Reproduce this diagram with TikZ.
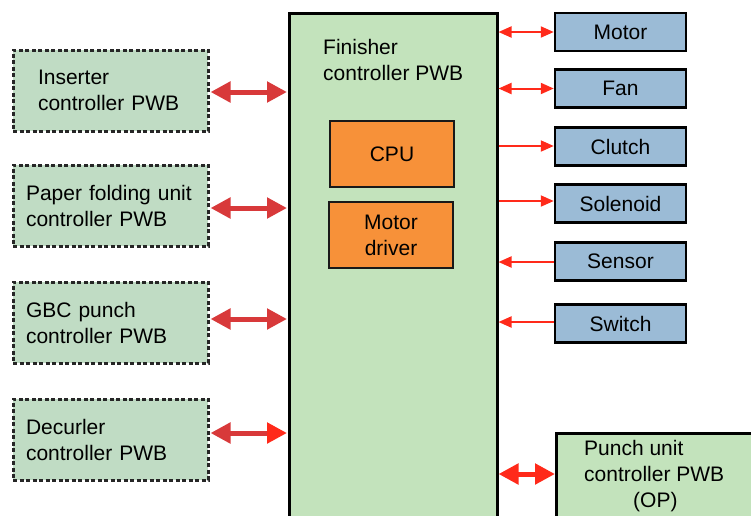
\documentclass[tikz,border=0pt]{standalone}
\usepackage{fontspec}
\setmainfont{Liberation Sans}
\usetikzlibrary{arrows.meta}
\definecolor{lgreen}{HTML}{C0DCC4}
\definecolor{mgreen}{HTML}{C3E3BC}
\definecolor{rblue}{HTML}{9BBBD6}
\definecolor{corange}{HTML}{F79139}
\definecolor{dred}{HTML}{D8393A}
\definecolor{bred}{HTML}{FF2A1A}
\tikzset{
  every node/.style={font=\fontsize{21}{26}\selectfont, inner sep=0pt},
  lbox/.style={draw=black!85, dash pattern=on 4pt off 2.5pt, line width=3pt, fill=lgreen, minimum width=195, minimum height=81, align=left},
  rbox/.style={draw=black, line width=2.5pt, fill=rblue, minimum width=131, minimum height=38},
  obox/.style={draw=black!90, line width=2pt, fill=corange, minimum width=124, minimum height=66, align=center},
  bigarrow/.style={dred, line width=5pt, {Triangle[length=20pt,width=20pt]}-{Triangle[length=20pt,width=20pt]}, shorten <=1pt, shorten >=1pt},
  thinarrow/.style={bred, line width=2pt},
  thintip/.style={-{Triangle[length=13pt,width=11pt]}},
}
\begin{document}
\begin{tikzpicture}[x=1pt,y=-1pt]
\useasboundingbox (0,0) rectangle (751,515);
% main box
\node[draw=black, line width=2.5pt, fill=mgreen, minimum width=208, minimum height=520, anchor=north west] (main) at (288,12) {};
\node[anchor=west, align=left] (maintxt) at (323,60) {Finisher\\controller PWB};
\node[obox] (cpu) at (392,154) {CPU};
\node[obox] (drv) at (391,235) {Motor\\driver};
% left boxes
\node[lbox, inner xsep=25pt, text width=145pt] (ins) at (110.5,90.5) {Inserter\\controller PWB};
\node[lbox, inner xsep=13pt, text width=169pt] (pfu) at (110.5,205.5) {Paper folding unit\\controller PWB};
\node[lbox, inner xsep=13pt, text width=169pt] (gbc) at (110.5,322.5) {GBC punch\\controller PWB};
\node[lbox, inner xsep=13pt, text width=169pt] (dec) at (110.5,439.5) {Decurler\\controller PWB};
% left arrows
\coordinate (m1) at (main.west |- 0,92);
\coordinate (m2) at (main.west |- 0,208);
\coordinate (m3) at (main.west |- 0,319);
\coordinate (m4) at (main.west |- 0,433);
\draw[bigarrow] (ins.east |- m1) -- (m1);
\draw[bigarrow] (pfu.east |- m2) -- (m2);
\draw[bigarrow] (gbc.east |- m3) -- (m3);
\draw[bigarrow, {Triangle[length=20pt,width=20pt]}-{Triangle[length=20pt,width=20pt,color=bred]}] (dec.east |- m4) -- (m4);
% right boxes
\node[rbox] (motor) at (620.5,32) {Motor};
\node[rbox] (fan) at (620.5,88.5) {Fan};
\node[rbox] (clutch) at (620.5,146.5) {Clutch};
\node[rbox] (sol) at (620.5,203.5) {Solenoid};
\node[rbox] (sens) at (620.5,261.5) {Sensor};
\node[rbox] (sw) at (620.5,323.5) {Switch};
\node[draw=black, line width=2.5pt, fill=mgreen, minimum width=205, minimum height=90, anchor=north west] (punch) at (555,432) {};
\node[anchor=north west, align=left] (punchtxt) at (584,440) {Punch unit\\controller PWB\\\hspace*{49pt}(OP)};
% right arrows
\draw[thinarrow, {Triangle[length=13pt,width=11pt]}-{Triangle[length=13pt,width=11pt]}] (main.east |- motor) -- (motor.west);
\draw[thinarrow, {Triangle[length=13pt,width=11pt]}-{Triangle[length=13pt,width=11pt]}] (main.east |- fan) -- (fan.west);
\draw[thinarrow, thintip] (main.east |- 0,146) -- (clutch.west |- 0,146);
\draw[thinarrow, thintip] (main.east |- 0,201) -- (sol.west |- 0,201);
\draw[thinarrow, thintip] (sens.west |- 0,262) -- (main.east |- 0,262);
\draw[thinarrow, thintip] (sw.west |- 0,322) -- (main.east |- 0,322);
\draw[bred, line width=5pt, {Triangle[length=20pt,width=20pt]}-{Triangle[length=20pt,width=20pt]}] (main.east |- 0,474) -- (punch.west |- 0,474);
\end{tikzpicture}
\end{document}
